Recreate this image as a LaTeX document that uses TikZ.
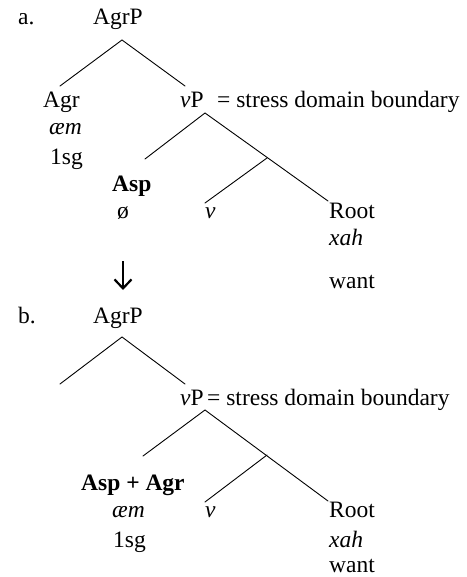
\documentclass[tikz,border=0pt]{standalone}
\usepackage{fontspec}
\setmainfont{Liberation Serif}
\usetikzlibrary{arrows.meta}
\begin{document}
\begin{tikzpicture}[x=1pt,y=-1pt,
  lbl/.style={inner sep=0pt, anchor=base west, font=\fontsize{23.5}{28}\selectfont},
  branch/.style={line width=0.9pt, line cap=round},
  bigarrow/.style={line width=2.2pt, -{Straight Barb[length=9pt,width=17pt,line width=2.2pt]}}]
\useasboundingbox (0,0) rectangle (466,577);
% ---------- a ----------
\node[lbl] (aL) at (18,25) {a.};
\node[lbl] (aAgrP) at (93,25) {AgrP};
\node[lbl] (aAgr) at (43,108) {Agr};
\node[lbl] (aAem) at (49,135) {\itshape æm};
\node[lbl] (aSg) at (50,165) {1sg};
\node[lbl] (avP) at (180,108) {\itshape v\upshape P};
\node[lbl] (aEq) at (217,108) {= stress domain boundary};
\node[lbl] (aAsp) at (112,192) {\bfseries Asp};
\node[lbl] (aNull) at (117,218) {ø};
\node[lbl] (av) at (205,218) {\itshape v};
\node[lbl] (aRoot) at (329,218) {Root};
\node[lbl] (aXah) at (329,245) {\itshape xah};
\node[lbl] (aWant) at (329,288) {want};
\coordinate (arrTop) at (123,261);
\coordinate (arrBot) at (123,290);
\draw[bigarrow] (arrTop) -- (arrBot);
\coordinate (aT1) at (122,40);
\coordinate (aL1) at (60,86);
\coordinate (aR1) at (185,86);
\coordinate (aT2) at (205,113);
\coordinate (aL2) at (145,159);
\coordinate (aR2) at (328,201);
\coordinate (aM) at (267,158);
\coordinate (aV) at (205,203);
\draw[branch] (aL1) -- (aT1) -- (aR1);
\draw[branch] (aL2) -- (aT2) -- (aR2);
\draw[branch] (aM) -- (aV);
% ---------- b ----------
\node[lbl] (bL) at (18,323) {b.};
\node[lbl] (bAgrP) at (93,323) {AgrP};
\node[lbl] (bvP) at (180,405) {\itshape v\upshape P};
\node[lbl] (bEq) at (207,405) {= stress domain boundary};
\node[lbl] (bAsp) at (81,490) {\bfseries Asp + Agr};
\node[lbl] (bAem) at (112,517) {\itshape æm};
\node[lbl] (bSg) at (113,547) {1sg};
\node[lbl] (bv) at (205,517) {\itshape v};
\node[lbl] (bRoot) at (329,517) {Root};
\node[lbl] (bXah) at (329,547) {\itshape xah};
\node[lbl] (bWant) at (329,572) {want};
\coordinate (bT1) at (122,337);
\coordinate (bL1) at (60,384);
\coordinate (bR1) at (185,384);
\coordinate (bT2) at (205,410);
\coordinate (bL2) at (143,456);
\coordinate (bR2) at (328,501);
\coordinate (bM) at (267,455);
\coordinate (bV) at (205,502);
\draw[branch] (bL1) -- (bT1) -- (bR1);
\draw[branch] (bL2) -- (bT2) -- (bR2);
\draw[branch] (bM) -- (bV);
\end{tikzpicture}
\end{document}
